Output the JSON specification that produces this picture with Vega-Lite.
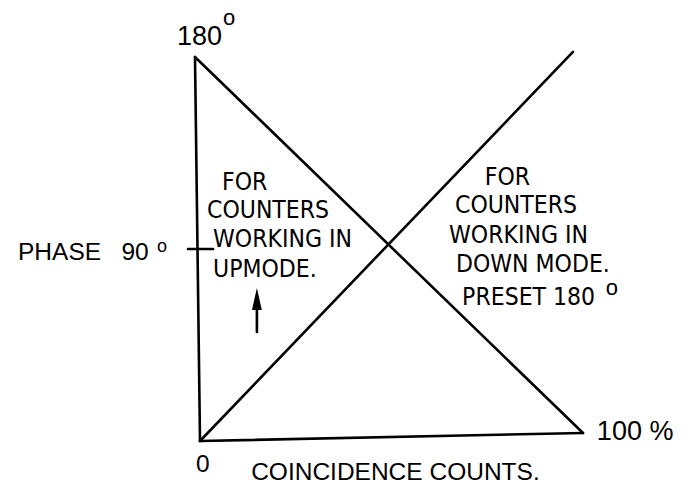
{
  "$schema": "https://vega.github.io/schema/vega-lite/v6.json",
  "width": 385,
  "height": 384,
  "autosize": {"type": "none"},
  "padding": {"left": 198, "top": 57, "right": 112, "bottom": 44},
  "background": "white",
  "config": {"view": {"stroke": null}},
  "datasets": {
    "segments": [
      {"part": "phase axis", "x": 0.52, "y": 0, "x2": -0.78, "y2": 180},
      {"part": "down mode", "x": -0.78, "y": 180, "x2": 100, "y2": 3.75},
      {"part": "count axis", "x": 0.52, "y": 0, "x2": 100, "y2": 3.75},
      {"part": "up mode", "x": 0.52, "y": 0, "x2": 97.4, "y2": 182.4},
      {"part": "90 tick", "x": -2.6, "y": 90, "x2": 3.9, "y2": 90},
      {"part": "arrow shaft", "x": 15.3, "y": 51.1, "x2": 15.3, "y2": 64}
    ],
    "arrowhead": [{"x": 15.3, "y": 66.6}],
    "blocks": [
      {"label": "FOR", "x": 6.23, "y": 117.6},
      {"label": "COUNTERS", "x": 2.34, "y": 104.5},
      {"label": "WORKING IN", "x": 3.9, "y": 90.9},
      {"label": "UPMODE.", "x": 3.9, "y": 76.9},
      {"label": "FOR", "x": 74.5, "y": 120.0},
      {"label": "COUNTERS", "x": 66.75, "y": 106.9},
      {"label": "WORKING IN", "x": 65.2, "y": 92.8},
      {"label": "DOWN MODE.", "x": 67.0, "y": 79.2},
      {"label": "PRESET 180", "x": 68.6, "y": 63.75}
    ],
    "axislabels": [
      {"label": "PHASE\u00a0\u00a0 90", "x": -46.75, "y": 84.8},
      {"label": "0", "x": -0.52, "y": -14.5},
      {"label": "COINCIDENCE COUNTS.", "x": 13.8, "y": -18.3}
    ],
    "endlabels": [
      {"label": "180", "x": -5.45, "y": 185.6},
      {"label": "100 %", "x": 103.6, "y": 0.47}
    ],
    "degrees": [
      {"label": "o", "x": 6.5, "y": 195},
      {"label": "o", "x": 105.9, "y": 68.4}
    ],
    "smalldegrees": [
      {"label": "o", "x": -10.65, "y": 88.6}
    ]
  },
  "layer": [
    {
      "data": {"name": "segments"},
      "mark": {"type": "rule", "color": "black", "strokeWidth": 2.6, "strokeCap": "round", "clip": false},
      "encoding": {
        "x": {"field": "x", "type": "quantitative", "scale": {"domain": [0, 100], "nice": false, "zero": false}, "axis": null},
        "y": {"field": "y", "type": "quantitative", "scale": {"domain": [0, 180], "nice": false, "zero": false}, "axis": null},
        "x2": {"field": "x2"},
        "y2": {"field": "y2"}
      }
    },
    {
      "data": {"name": "arrowhead"},
      "mark": {"type": "point", "shape": "M0,-1L0.45,1L-0.45,1Z", "filled": true, "color": "black", "opacity": 1, "size": 484},
      "encoding": {
        "x": {"field": "x", "type": "quantitative"},
        "y": {"field": "y", "type": "quantitative"}
      }
    },
    {
      "data": {"name": "blocks"},
      "mark": {"type": "text", "align": "left", "baseline": "alphabetic", "font": "Liberation Sans Narrow, DejaVu Sans Condensed, Liberation Sans", "fontSize": 24.5, "color": "black"},
      "encoding": {
        "x": {"field": "x", "type": "quantitative"},
        "y": {"field": "y", "type": "quantitative"},
        "text": {"field": "label"}
      }
    },
    {
      "data": {"name": "axislabels"},
      "mark": {"type": "text", "align": "left", "baseline": "alphabetic", "font": "Liberation Sans", "fontSize": 24.5, "color": "black"},
      "encoding": {
        "x": {"field": "x", "type": "quantitative"},
        "y": {"field": "y", "type": "quantitative"},
        "text": {"field": "label"}
      }
    },
    {
      "data": {"name": "endlabels"},
      "mark": {"type": "text", "align": "left", "baseline": "alphabetic", "font": "Liberation Sans", "fontSize": 27, "color": "black"},
      "encoding": {
        "x": {"field": "x", "type": "quantitative"},
        "y": {"field": "y", "type": "quantitative"},
        "text": {"field": "label"}
      }
    },
    {
      "data": {"name": "degrees"},
      "mark": {"type": "text", "align": "left", "baseline": "alphabetic", "font": "Liberation Sans", "fontSize": 22, "color": "black"},
      "encoding": {
        "x": {"field": "x", "type": "quantitative"},
        "y": {"field": "y", "type": "quantitative"},
        "text": {"field": "label"}
      }
    },
    {
      "data": {"name": "smalldegrees"},
      "mark": {"type": "text", "align": "left", "baseline": "alphabetic", "font": "Liberation Sans", "fontSize": 18, "color": "black"},
      "encoding": {
        "x": {"field": "x", "type": "quantitative"},
        "y": {"field": "y", "type": "quantitative"},
        "text": {"field": "label"}
      }
    }
  ]
}
